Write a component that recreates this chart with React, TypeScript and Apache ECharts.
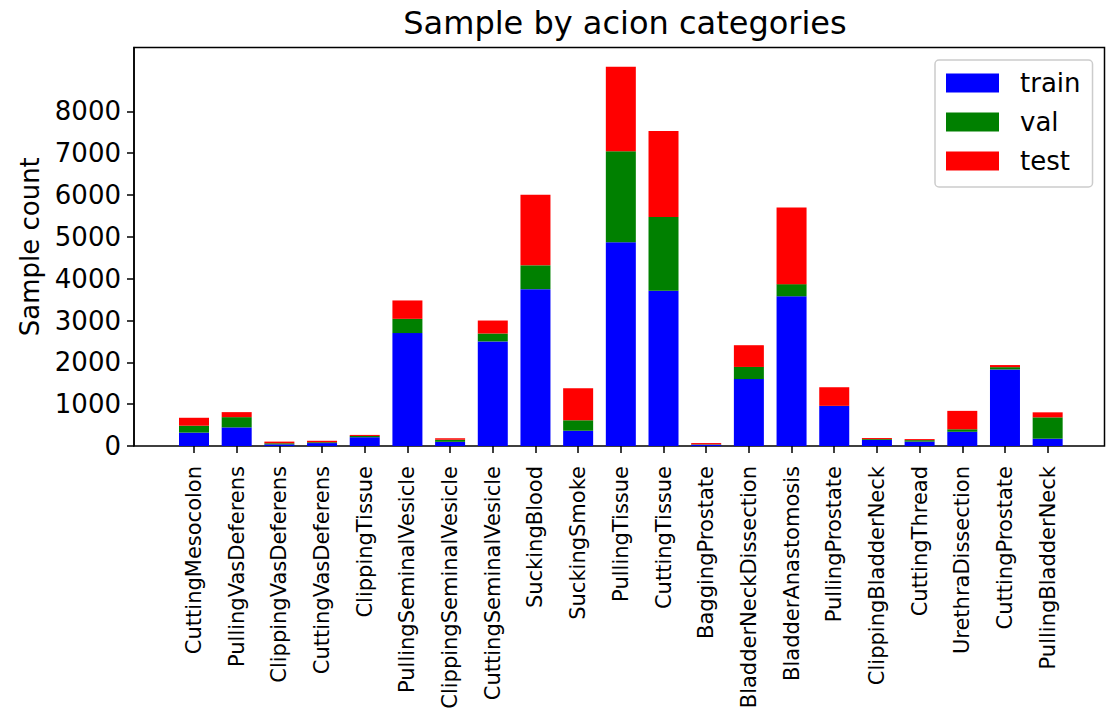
import React, { useEffect, useRef } from "react";
import * as echarts from "echarts";

const categories = [
  "CuttingMesocolon", "PullingVasDeferens", "ClippingVasDeferens", "CuttingVasDeferens",
  "ClippingTissue", "PullingSeminalVesicle", "ClippingSeminalVesicle", "CuttingSeminalVesicle",
  "SuckingBlood", "SuckingSmoke", "PullingTissue", "CuttingTissue", "BaggingProstate",
  "BladderNeckDissection", "BladderAnastomosis", "PullingProstate", "ClippingBladderNeck",
  "CuttingThread", "UrethraDissection", "CuttingProstate", "PullingBladderNeck",
];
const trainValues = [320, 445, 40, 70, 210, 2700, 100, 2500, 3750, 365, 4870, 3710, 30, 1600, 3580, 955, 145, 105, 340, 1830, 175];
const valValues = [165, 245, 25, 20, 30, 340, 50, 190, 570, 250, 2175, 1765, 10, 290, 290, 5, 20, 35, 60, 55, 510];
const testValues = [190, 120, 40, 35, 25, 440, 35, 310, 1690, 765, 2020, 2055, 30, 520, 1830, 445, 25, 25, 440, 50, 120];
const yTicks = [0, 1000, 2000, 3000, 4000, 5000, 6000, 7000, 8000];

const FONT = "DejaVu Sans";
const Y_MAX = 9528;

export default function App() {
  const ref = useRef<HTMLDivElement>(null);
  useEffect(() => {
    const chart = echarts.init(ref.current!, null, { renderer: "svg" });
    const mk = (name: string, vals: number[], color: string) => ({
      name,
      type: "bar",
      stack: "total",
      barWidth: 30,
      xAxisIndex: 0,
      yAxisIndex: 0,
      itemStyle: { color },
      data: vals,
    });
    chart.setOption({
      animation: false,
      title: {
        text: "Sample by acion categories",
        left: 620,
        top: 2,
        textAlign: "center",
        textStyle: { fontFamily: FONT, fontSize: 32, fontWeight: "normal", color: "#000" },
      },
      legend: {
        orient: "vertical",
        left: 935,
        top: 60,
        data: ["train", "val", "test"],
        itemWidth: 53,
        itemHeight: 19,
        itemGap: 13,
        padding: [10, 12, 13, 11],
        borderColor: "#cccccc",
        borderWidth: 1.5,
        borderRadius: 4,
        backgroundColor: "#fff",
        icon: "rect",
        z: 10,
        textStyle: { fontFamily: FONT, fontSize: 26, lineHeight: 26, color: "#000", padding: [0, 0, 0, 16] },
      },
      grid: [
        { left: 172.66, right: 37, top: 47.5, bottom: 268, show: false },
        { left: 134, right: 1.5, top: 47.5, bottom: 268, show: true, borderColor: "#000", borderWidth: 1.5, backgroundColor: "transparent" },
      ],
      xAxis: [
        {
          type: "category",
          gridIndex: 0,
          data: categories,
          axisLine: { show: false },
          axisTick: { show: true, alignWithLabel: true, length: 7, lineStyle: { color: "#000", width: 1.5 } },
          axisLabel: { interval: 0, rotate: 90, margin: 20, fontFamily: FONT, fontSize: 21, color: "#000" },
        },
        { type: "value", gridIndex: 1, show: false, min: 0, max: 1 },
      ],
      yAxis: [
        { type: "value", gridIndex: 0, show: false, min: 0, max: Y_MAX, splitLine: { show: false } },
        {
          type: "value",
          gridIndex: 1,
          min: 0,
          max: Y_MAX,
          name: "Sample count",
          nameLocation: "middle",
          nameRotate: 90,
          nameGap: 91,
          nameTextStyle: { fontFamily: FONT, fontSize: 26, color: "#000" },
          splitLine: { show: false },
          axisLine: { show: true, onZero: false, lineStyle: { color: "#000", width: 1.5 } },
          axisTick: { show: true, length: 7, lineStyle: { color: "#000", width: 1.5 }, customValues: yTicks },
          axisLabel: {
            customValues: yTicks,
            margin: 13,
            fontFamily: FONT,
            fontSize: 26,
            color: "#000",
            formatter: (v: number) => String(v),
          },
        },
      ],
      series: [
        mk("train", trainValues, "#0000ff"),
        mk("val", valValues, "#008000"),
        mk("test", testValues, "#ff0000"),
      ],
    });
    return () => chart.dispose();
  }, []);
  return <div ref={ref} style={{ position: "fixed", left: 0, top: 0, width: 1106, height: 714, background: "#fff" }} />;
}
